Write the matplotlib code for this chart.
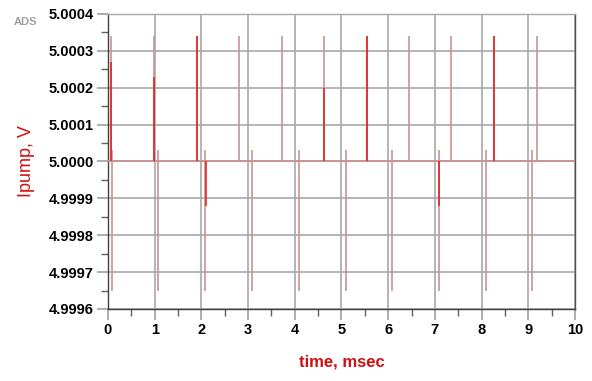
import matplotlib
matplotlib.use("Agg")
import matplotlib.pyplot as plt
from matplotlib.ticker import MultipleLocator, FormatStrFormatter

plt.rcParams['font.family'] = ['Liberation Sans', 'DejaVu Sans']

# baseline level of the trace
v_base = 5.0

# upward glitches: time (msec), peak (V)
up_times = [0.06, 0.98, 1.9, 2.8, 3.72, 4.63, 5.55, 6.45, 7.35, 8.27, 9.19]
up_peaks = [5.00034, 5.00034, 5.00034, 5.00034, 5.00034, 5.00034,
            5.00034, 5.00034, 5.00034, 5.00034, 5.00034]

# downward glitches: time (msec), top and bottom (V)
down_times = [0.08, 1.08, 2.08, 3.08, 4.08, 5.09, 6.09, 7.09, 8.09, 9.08]
down_tops = [5.00003] * 10
down_bottoms = [4.99965] * 10

# samples drawn in full red (sharper inner part of some glitches)
hi_times = [0.06, 0.98, 1.9, 4.63, 5.55, 8.27, 2.09, 7.09]
hi_from = [5.0, 5.0, 5.0, 5.0, 5.0, 5.0, 5.0, 5.0]
hi_to = [5.00027, 5.00023, 5.00034, 5.0002, 5.00034, 5.00034, 4.99988, 4.99988]

pale = '#c99494'
red = '#e41a1a'

fig = plt.figure(figsize=(5.92, 3.81), dpi=100)
ax = fig.add_axes([0.1824, 0.189, 0.7889, 0.7743])

ax.axhline(v_base, color=pale, lw=1.4, zorder=3)
ax.vlines(up_times, v_base, up_peaks, color=pale, lw=1.2, zorder=3)
ax.vlines(down_times, down_bottoms, down_tops, color=pale, lw=1.2, zorder=3)
ax.vlines(hi_times, hi_from, hi_to, color=red, lw=1.1, zorder=4)

ax.set_xlim(0, 10)
ax.set_ylim(4.9996, 5.0004)
ax.xaxis.set_major_locator(MultipleLocator(1))
ax.xaxis.set_minor_locator(MultipleLocator(0.5))
ax.yaxis.set_major_locator(MultipleLocator(0.0001))
ax.yaxis.set_minor_locator(MultipleLocator(0.00005))
ax.yaxis.set_major_formatter(FormatStrFormatter('%.4f'))

ax.grid(True, which='major', color='#a8a8a8', lw=1.2)
ax.tick_params(which='major', direction='out', length=8, width=1.2, color='#a0a0a0',
               labelsize=10.5, pad=2)
ax.tick_params(which='minor', direction='out', length=5, width=1.0, color='#606060')
for lab in ax.get_xticklabels() + ax.get_yticklabels():
    lab.set_fontweight('bold')

ax.spines['left'].set_color('#404040')
ax.spines['bottom'].set_color('#404040')
ax.spines['right'].set_color('#505050')
ax.spines['top'].set_color('#a8a8a8')
for s in ax.spines.values():
    s.set_linewidth(1.0)

ax.set_ylabel('Ipump, V', color='#d01010', fontsize=13, labelpad=10)
ax.set_xlabel('time, msec', color='#d01010', fontsize=12, fontweight='bold', labelpad=13)

fig.text(0.024, 0.934, 'ADS', color='#a0a0a0', fontsize=8, fontweight='bold')

fig.savefig('out.png', dpi=100)
